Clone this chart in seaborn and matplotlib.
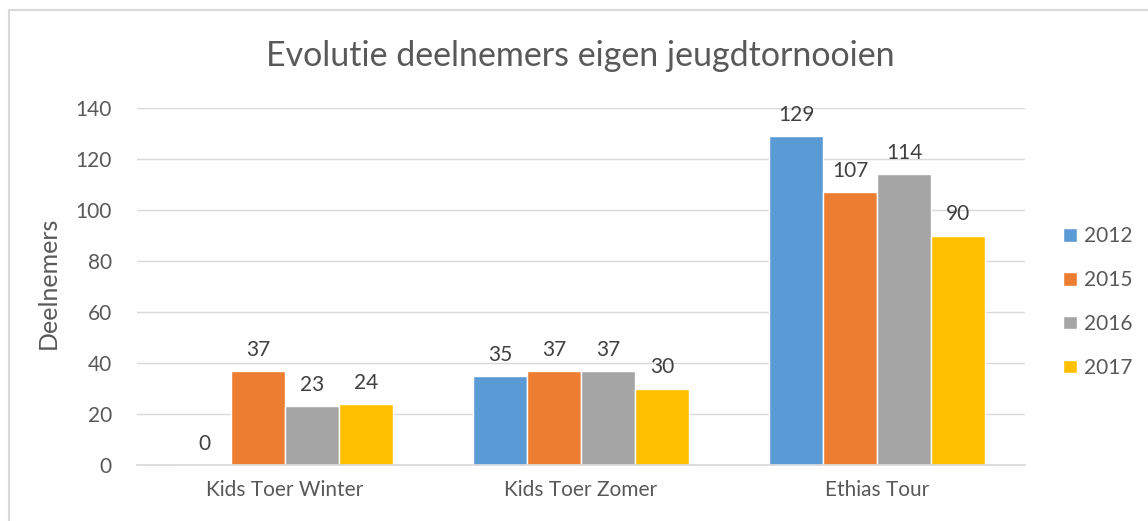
import pandas as pd
import matplotlib
matplotlib.use("Agg")
import matplotlib.pyplot as plt
import seaborn as sns
from matplotlib.patches import Rectangle

# Data
toernooien = ["Kids Toer Winter", "Kids Toer Zomer", "Ethias Tour"]
jaren = ["2012", "2015", "2016", "2017"]
deelnemers_2012 = [0, 35, 129]
deelnemers_2015 = [37, 37, 107]
deelnemers_2016 = [23, 37, 114]
deelnemers_2017 = [24, 30, 90]

kleuren = ["#5B9BD5", "#ED7D31", "#A5A5A5", "#FFC000"]
TEKST = "#595959"

sns.set_theme(style="white")
plt.rcParams["font.family"] = ["Lato", "DejaVu Sans"]

rows = []
for jaar, waarden in zip(jaren, [deelnemers_2012, deelnemers_2015,
                                 deelnemers_2016, deelnemers_2017]):
    for t, w in zip(toernooien, waarden):
        rows.append({"Toernooi": t, "Jaar": jaar, "Deelnemers": w})
df = pd.DataFrame(rows)

fig = plt.figure(figsize=(11.48, 5.21), dpi=100)
ax = fig.add_axes([137 / 1148, 1 - 465 / 521, 888 / 1148, 357 / 521])

sns.barplot(data=df, x="Toernooi", y="Deelnemers", hue="Jaar",
            palette=kleuren, width=0.73, saturation=1, ax=ax)

for c in ax.containers:
    ax.bar_label(c, padding=8, fontsize=15, color="#404040")

ax.set_ylim(0, 140)
ax.set_yticks(range(0, 141, 20))
ax.yaxis.grid(True, color="#d9d9d9", linewidth=1)
ax.set_axisbelow(True)
for s in ["top", "right", "left"]:
    ax.spines[s].set_visible(False)
ax.spines["bottom"].set_color("#d9d9d9")
ax.tick_params(axis="both", length=0, labelsize=15, colors=TEKST)
ax.tick_params(axis="y", pad=18)
ax.tick_params(axis="x", pad=11)
ax.set_xlabel("")
ax.set_ylabel("Deelnemers", fontsize=18, color=TEKST)
ax.yaxis.set_label_coords(-(137 - 60) / 888, 0.51)

fig.text(0.5055, 1 - 56 / 521, "Evolutie deelnemers eigen jeugdtornooien",
         ha="center", va="center", fontsize=24.5, color=TEKST)

leg = ax.legend(loc="center left", bbox_to_anchor=(1.022, 0.457), frameon=False,
                fontsize=15, labelspacing=1.15, handlelength=0.65,
                handleheight=0.65, handletextpad=0.35)
for t in leg.get_texts():
    t.set_color(TEKST)

fig.patches.append(Rectangle((9 / 1148, -0.05), 1.1, 1 - 10 / 521 + 0.05,
                             transform=fig.transFigure, fill=False,
                             edgecolor="#d9d9d9", linewidth=1.5))

fig.savefig("out.png", dpi=100)
